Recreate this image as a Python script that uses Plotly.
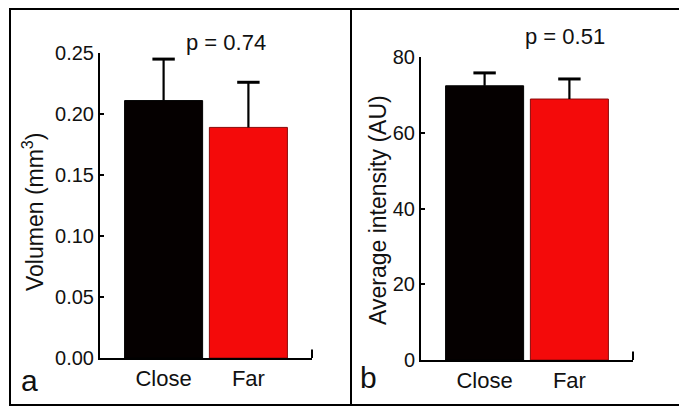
import plotly.graph_objects as go

W, H = 687, 407
OFF = 8  # page body margin offset of the figure in the browser

# ---- data ----
categories = ["Close", "Far"]
volume_means = [0.211, 0.189]
volume_err = [0.034, 0.037]
intensity_means = [72.4, 68.9]
intensity_err = [3.4, 5.3]
volume_ticks = [0.00, 0.05, 0.10, 0.15, 0.20, 0.25]
volume_ticklabels = ["0.00", "0.05", "0.10", "0.15", "0.20", "0.25"]
intensity_ticks = [0, 20, 40, 60, 80]
intensity_ticklabels = ["0", "20", "40", "60", "80"]
p_values = ["p = 0.74", "p = 0.51"]
panel_letters = ["a", "b"]
y_titles = ["Volumen (mm<sup>3</sup>)", "Average intensity (AU)"]

bar_colors = ["#050000", "#f40a0a"]
bar_lines = ["#000000", "#8a0a0a"]
FONT = "Liberation Sans, Arial, sans-serif"
TXT = "#111111"


def px_x(x):
    return (x - OFF) / W


def px_y(y):
    return 1 - (y - OFF) / H


fig = go.Figure()


def add_panel(means, errs, xa, ya):
    fig.add_trace(go.Bar(
        x=categories, y=means, width=0.92,
        marker=dict(color=bar_colors, line=dict(color=bar_lines, width=1)),
        xaxis=xa, yaxis=ya, showlegend=False, hoverinfo="skip"))
    tops = [m + e for m, e in zip(means, errs)]
    # stems (no caps), drawn from the bar top upward
    fig.add_trace(go.Scatter(
        x=categories, y=means, mode="markers", marker=dict(size=0.1, color="rgba(0,0,0,0)"),
        error_y=dict(type="data", array=errs, arrayminus=[0] * len(errs), symmetric=False,
                     color="black", thickness=2.2, width=0),
        xaxis=xa, yaxis=ya, showlegend=False, hoverinfo="skip", cliponaxis=False))
    # caps at the top of each error bar
    fig.add_trace(go.Scatter(
        x=categories, y=tops, mode="markers",
        marker=dict(symbol="line-ew-open", size=16, color="black",
                    line=dict(color="black", width=3)),
        xaxis=xa, yaxis=ya, showlegend=False, hoverinfo="skip", cliponaxis=False))


add_panel(volume_means, volume_err, "x", "y")
add_panel(intensity_means, intensity_err, "x2", "y2")

xcommon = dict(type="category", range=[-0.75, 1.75], showline=True, linecolor="black",
               linewidth=2, ticks="", showgrid=False, zeroline=False, automargin=False,
               tickfont=dict(family=FONT, size=22, color=TXT), fixedrange=True)
ycommon = dict(showline=True, linecolor="black", linewidth=2, ticks="inside",
               ticklen=4, tickwidth=2, tickcolor="black", showgrid=False, zeroline=False,
               automargin=False,
               tickfont=dict(family=FONT, size=20, color=TXT), fixedrange=True)

fig.update_layout(
    width=W, height=H,
    margin=dict(l=0, r=0, t=0, b=0, pad=0, autoexpand=False),
    paper_bgcolor="white", plot_bgcolor="white",
    showlegend=False,
    bargap=0.08,
    xaxis=dict(domain=[px_x(100), px_x(312)], anchor="y", **xcommon),
    yaxis=dict(domain=[px_y(358), px_y(53)], anchor="x", range=[0, 0.25],
               tickvals=volume_ticks, ticktext=volume_ticklabels, **ycommon),
    xaxis2=dict(domain=[px_x(421), px_x(633)], anchor="y2", **xcommon),
    yaxis2=dict(domain=[px_y(360), px_y(57)], anchor="x2", range=[0, 80],
                tickvals=intensity_ticks, ticktext=intensity_ticklabels, **ycommon),
)

# right-end upward tick of each x axis
for xr, yr in [("x domain", "y domain"), ("x2 domain", "y2 domain")]:
    fig.add_shape(type="line", xref=xr, yref=yr, x0=1, x1=1, y0=0, y1=0.028,
                  line=dict(color="black", width=2))

# panel frame
fig.add_shape(type="rect", xref="paper", yref="paper",
              x0=px_x(10), x1=px_x(705), y0=px_y(405), y1=px_y(9),
              line=dict(color="black", width=2))
fig.add_shape(type="line", xref="paper", yref="paper",
              x0=px_x(351), x1=px_x(351), y0=px_y(405), y1=px_y(9),
              line=dict(color="black", width=2))

# annotations
p_pos = [(226, 42), (565, 37)]
for txt, (x, y) in zip(p_values, p_pos):
    fig.add_annotation(text=txt, x=px_x(x), y=px_y(y), xref="paper", yref="paper",
                       showarrow=False, font=dict(family=FONT, size=22, color=TXT),
                       xanchor="center", yanchor="middle")

letter_pos = [(29, 380), (368, 377)]
for txt, (x, y) in zip(panel_letters, letter_pos):
    fig.add_annotation(text=txt, x=px_x(x), y=px_y(y), xref="paper", yref="paper",
                       showarrow=False, font=dict(family=FONT, size=30, color=TXT),
                       xanchor="center", yanchor="middle")

title_pos = [(33, 212), (378, 210)]
for txt, (x, y) in zip(y_titles, title_pos):
    fig.add_annotation(text=txt, x=px_x(x), y=px_y(y), xref="paper", yref="paper",
                       showarrow=False, textangle=-90,
                       font=dict(family=FONT, size=23, color=TXT),
                       xanchor="center", yanchor="middle")

fig.write_html("out.html")
